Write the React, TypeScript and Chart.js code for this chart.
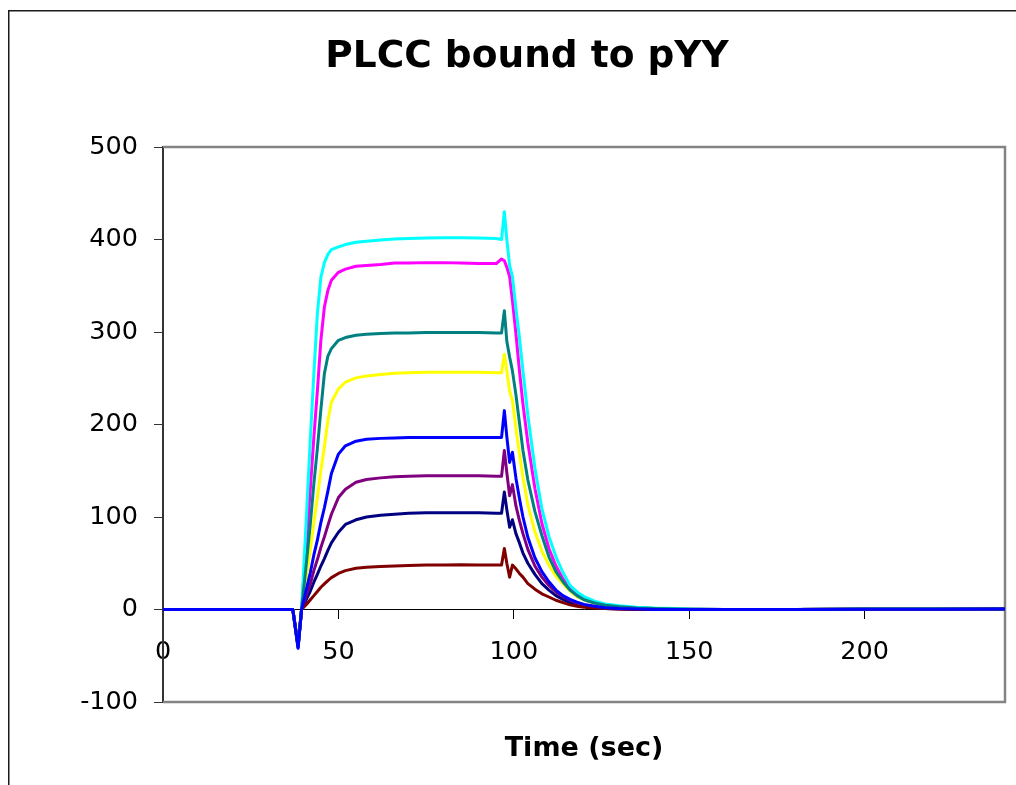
import React, { useEffect, useRef } from "react";
import { Chart, registerables } from "chart.js";

Chart.register(...registerables);

// Time points (sec)
const TIME = [
  0, 10, 20, 30, 37, 38.5, 39.5, 41, 42, 43, 44, 45, 46, 47, 48, 50, 52, 55, 58, 62, 66,
  70, 75, 80, 85, 90, 95, 96.5, 97.3, 98, 98.8, 99.6, 100.6, 101.6, 102.6, 104, 106, 108,
  110, 112, 114, 116, 118, 120, 123, 126, 130, 135, 140, 150, 160, 180, 200, 220, 240,
];

const NAVY = [
  0, 0, 0, 0, 0, -40, 0, 12, 20, 29.5, 38, 47, 55, 64, 72, 83.5, 92, 97, 100, 102, 103,
  104, 104.5, 104.5, 104.5, 104.5, 104, 104, 127, 108, 89, 97, 82, 72, 61, 50, 38, 28,
  21, 15, 11, 7.5, 5, 3.5, 2, 1.2, 0.6, 0.3, 0, 0, 0, 0, 0.3, 0.3, 0.5,
];
const MAGENTA = [
  0, 0, 0, 0, 0, -40, 0, 80, 131, 186, 236, 291, 327, 345, 356, 364.5, 368, 371, 372, 373, 374.5,
  374.5, 375, 375, 374.5, 374, 374, 379, 377, 370, 360, 334, 298, 258, 222, 180, 131, 93,
  66, 47, 33, 23, 16, 11, 7, 5, 3, 2, 1, 0.5, 0, 0, 0.5, 0.5, 0.5,
];
const YELLOW = [
  0, 0, 0, 0, 0, -40, 0, 38, 65, 94, 121, 150, 176, 204, 224, 238.5, 245.7, 250.4, 252.5, 254, 255.4,
  256, 256.5, 256.5, 256.5, 256.5, 256, 256, 276, 258, 236, 226, 196, 168, 143, 113, 84, 63,
  48, 36, 28, 20, 14, 10.5, 7, 5, 3, 1.5, 1, 0.3, 0, 0, 0.5, 0.5, 0.5,
];
const CYAN = [
  0, 0, 0, 0, 0, -40, 0, 110, 185, 255, 320, 359, 375, 384, 389, 392, 394.5, 397, 398, 399.5, 400.5,
  401, 401.5, 402, 402, 401.5, 401, 400, 430, 400, 372, 360, 325, 294, 258, 210, 153, 109,
  79, 57, 40, 26, 19, 14, 9, 6, 4, 2.5, 1.5, 0.5, 0, 0, 0.5, 0.5, 0.5,
];
const PURPLE = [
  0, 0, 0, 0, 0, -40, 0, 17, 28, 42, 54, 67, 78.5, 91, 103, 121, 130, 137.5, 140.5, 142.3, 143.4,
  144, 144.5, 144.5, 144.5, 144.5, 144, 144, 172, 148, 123, 135, 112, 96, 82, 65, 47, 35,
  26, 19, 14, 10, 7, 5, 3, 2, 1, 0.5, 0, 0, 0, 0, 0.3, 0.3, 0.5,
];
const DARK_RED = [
  0, 0, 0, 0, 0, -38, 0, 6, 10.5, 15, 19.5, 24, 27.7, 31.3, 34.5, 39, 42, 44.6, 45.7, 46.4, 47,
  47.5, 48, 48, 48.5, 48, 48, 48, 66, 50, 35, 48, 44, 39, 35, 28, 22, 17,
  13.5, 10, 7.5, 5, 3.5, 2.5, 1.5, 1, 0.5, 0, 0, 0, 0, 0, 0.3, 0.3, 0.5,
];
const TEAL = [
  0, 0, 0, 0, 0, -41, 0, 55, 93, 136, 174, 216, 255, 274, 282, 291, 294, 296.5, 297.5, 298.5, 299,
  299, 299.5, 299.5, 299.5, 299.5, 299, 299, 323, 290, 273, 258, 232, 202, 172, 140, 106, 80,
  57, 41, 30, 21, 15, 10.5, 7, 4.5, 3, 1.5, 1, 0.3, 0, 0, 0.5, 0.5, 0.5,
];
const BLUE = [
  0, 0, 0, 0, 0, -42, 0, 24, 40, 59, 75, 94, 110, 128, 147, 168, 177, 182, 184, 185, 185.5,
  186, 186, 186, 186, 186, 186, 186, 215, 187, 159, 170, 142, 120, 100, 78, 56, 41,
  30, 21, 15, 11, 8, 5.5, 3.5, 2, 1, 0.5, 0, 0, 0, 0, 0.3, 0.3, 0.5,
];

const SERIES_VALUES = [NAVY, MAGENTA, YELLOW, CYAN, PURPLE, DARK_RED, TEAL, BLUE];
const SERIES_NAMES = ["Series1", "Series2", "Series3", "Series4", "Series5", "Series6", "Series7", "Series8"];
const SERIES_COLORS = ["#000080", "#FF00FF", "#FFFF00", "#00FFFF", "#800080", "#800000", "#008080", "#0000FF"];

const X_TICKS = [0, 50, 100, 150, 200];
const TITLE = "PLCC bound to pYY";
const X_TITLE = "Time (sec)";

const FONT = "'DejaVu Sans', Verdana, sans-serif";

const framePlugin = {
  id: "frame",
  beforeDraw(chart: any) {
    const ctx = chart.ctx;
    ctx.save();
    ctx.fillStyle = "#ffffff";
    ctx.fillRect(0, 0, chart.width, chart.height);
    ctx.strokeStyle = "#1a1a1a";
    ctx.lineWidth = 1.5;
    ctx.beginPath();
    ctx.moveTo(8.75, chart.height);
    ctx.lineTo(8.75, 10.75);
    ctx.lineTo(chart.width, 10.75);
    ctx.stroke();
    ctx.restore();
  },
  beforeDatasetsDraw(chart: any) {
    const ctx = chart.ctx;
    const { left, top, right, bottom } = chart.chartArea;
    ctx.save();
    ctx.strokeStyle = "#848484";
    ctx.lineWidth = 2.5;
    ctx.beginPath();
    ctx.moveTo(left, top);
    ctx.lineTo(right, top);
    ctx.lineTo(right, bottom);
    ctx.lineTo(left, bottom);
    ctx.stroke();
    ctx.restore();
  },
};

export default function App() {
  const canvasRef = useRef<HTMLCanvasElement | null>(null);

  useEffect(() => {
    if (!canvasRef.current) return;
    const n = SERIES_VALUES.length;
    const datasets = SERIES_VALUES.map((vals, si) => ({
      label: SERIES_NAMES[si],
      data: TIME.map((t, i) => ({ x: t, y: vals[i] })),
      borderColor: SERIES_COLORS[si],
      backgroundColor: SERIES_COLORS[si],
      borderWidth: 3,
      borderJoinStyle: "round",
      borderCapStyle: "round",
      pointRadius: 0,
      tension: 0,
      fill: false,
      order: n - 1 - si,
    }));

    const chart = new Chart(canvasRef.current, {
      type: "line",
      data: { datasets },
      plugins: [framePlugin],
      options: {
        animation: false,
        responsive: false,
        events: [],
        layout: { padding: { left: 49, right: 11, top: 0, bottom: 0 } },
        plugins: {
          legend: { display: false },
          tooltip: { enabled: false },
          title: {
            display: true,
            text: TITLE,
            color: "#000",
            font: { family: FONT, size: 37.5, weight: "bold" },
            padding: { top: 35, bottom: 67 },
          },
          subtitle: {
            display: true,
            text: X_TITLE,
            position: "bottom",
            fullSize: false,
            color: "#000",
            font: { family: FONT, size: 27, weight: "bold" },
            padding: { top: 30.5, bottom: 20.1 },
          },
        },
        scales: {
          x: {
            type: "linear",
            position: { y: 0 } as any,
            min: 0,
            max: 240,
            bounds: "ticks",
            afterBuildTicks: (scale: any) => {
              scale.ticks = X_TICKS.map((v) => ({ value: v }));
            },
            ticks: {
              color: "#000",
              font: { family: FONT, size: 25.5 },
              padding: 19,
              maxRotation: 0,
              autoSkip: false,
            },
            grid: {
              drawOnChartArea: false,
              drawTicks: true,
              tickLength: 9,
              tickColor: "#000",
              tickWidth: 1,
            },
            border: { display: true, color: "#000", width: 1 },
          },
          y: {
            type: "linear",
            position: "left",
            min: -100,
            max: 500,
            afterFit: (scale: any) => {
              scale.width = 114;
            },
            ticks: {
              stepSize: 100,
              color: "#000",
              font: { family: FONT, size: 25.5 },
              padding: 16,
            },
            grid: {
              drawOnChartArea: false,
              drawTicks: true,
              tickLength: 9,
              tickColor: "#333",
              tickWidth: 1,
            },
            border: { display: true, color: "#333", width: 2 },
          },
        },
      },
    } as any);

    return () => chart.destroy();
  }, []);

  return (
    <div style={{ position: "absolute", left: 0, top: 0, width: 1016, height: 785, background: "#fff" }}>
      <canvas ref={canvasRef} width={1016} height={785} style={{ display: "block", width: 1016, height: 785 }} />
    </div>
  );
}
